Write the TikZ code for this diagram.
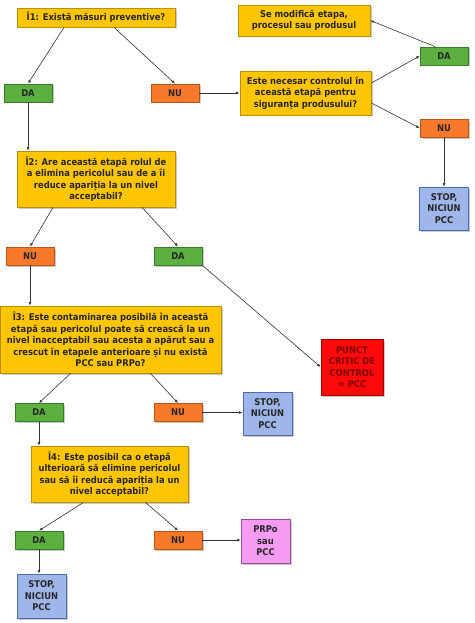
\documentclass[tikz,border=0pt]{standalone}
\usepackage{fontspec}
\setmainfont{DejaVu Sans Condensed}[BoldFont={DejaVu Sans Condensed Bold}]
\usepackage{tikz}
\usetikzlibrary{arrows.meta, shadows}

\definecolor{qyellow}{HTML}{FFC600}
\definecolor{qyellowd}{HTML}{B8900A}
\definecolor{agreen}{HTML}{5CB040}
\definecolor{agreend}{HTML}{3A7A28}
\definecolor{aorange}{HTML}{F8792A}
\definecolor{aoranged}{HTML}{B85418}
\definecolor{sblue}{HTML}{9FB6EA}
\definecolor{sblued}{HTML}{4E6AA8}
\definecolor{ppink}{HTML}{F59CF2}
\definecolor{ppinkd}{HTML}{9A4A98}
\definecolor{cred}{HTML}{FF0A0A}
\definecolor{credd}{HTML}{A00000}

\begin{document}
\begin{tikzpicture}[x=1pt, y=-1pt, line width=0.6pt,
    font=\fontsize{9.3}{11.4}\selectfont\bfseries,
    box/.style={draw, line width=0.8pt, align=center, inner sep=1pt, text=black!85,
        drop shadow={shadow xshift=1.5pt, shadow yshift=-1.5pt, fill=black!35, opacity=0.6}},
    question/.style={box, fill=qyellow, draw=qyellowd},
    yes/.style={box, fill=agreen, draw=agreend, minimum width=48pt, minimum height=18pt},
    no/.style={box, fill=aorange, draw=aoranged, minimum width=48pt, minimum height=18pt},
    stopbox/.style={box, fill=sblue, draw=sblued, minimum width=49pt, minimum height=43pt},
    link/.style={-{Latex[length=3.5pt, width=2.8pt]}, black!80}]

    \useasboundingbox (0, 0) rectangle (474, 623);

    % draw question boxes
    \node[question, minimum width=158pt, minimum height=19pt] (i1) at (96, 17.5) {Î1: Există măsuri preventive?};
    \node[question, minimum width=132pt, minimum height=31pt] (modif) at (304, 20.5) {Se modifică etapa,\\procesul sau produsul};
    \node[question, minimum width=131pt, minimum height=44pt] (necesar) at (305.5, 93) {Este necesar controlul în\\această etapă pentru\\siguranța produsului?};
    \node[question, minimum width=158pt, minimum height=56pt] (i2) at (96, 179) {Î2: Are această etapă rolul de\\a elimina pericolul sau de a îi\\reduce apariția la un nivel\\acceptabil?};
    \node[question, minimum width=221pt, minimum height=67pt] (i3) at (110.5, 339.5) {Î3: Este contaminarea posibilă în această\\etapă sau pericolul poate să crească la un\\nivel inacceptabil sau acesta a apărut sau a\\crescut în etapele anterioare și nu există\\PCC sau PRPo?};
    \node[question, minimum width=157pt, minimum height=56pt] (i4) at (109.5, 474) {Î4: Este posibil ca o etapă\\ulterioară să elimine pericolul\\sau să îi reducă apariția la un\\nivel acceptabil?};

    % draw answer boxes
    \node[yes] (da1) at (28, 93) {DA};
    \node[no] (nu1) at (175, 93) {NU};
    \node[yes] (dar) at (444, 56) {DA};
    \node[no] (nur) at (444, 128) {NU};
    \node[no] (nu2) at (30, 256) {NU};
    \node[yes] (da2) at (178, 256) {DA};
    \node[yes] (da3) at (39, 412.5) {DA};
    \node[no] (nu3) at (178, 412.5) {NU};
    \node[yes] (da4) at (39, 540) {DA};
    \node[no] (nu4) at (178, 540) {NU};

    % draw end boxes
    \node[stopbox] (stopr) at (444, 208.5) {STOP,\\NICIUN\\PCC};
    \node[stopbox] (stop3) at (267.5, 413.5) {STOP,\\NICIUN\\PCC};
    \node[stopbox, minimum height=44pt] (stop4) at (41.5, 596) {STOP,\\NICIUN\\PCC};
    \node[box, fill=ppink, draw=ppinkd, minimum width=49pt, minimum height=44pt] (prpo) at (265.5, 541) {PRPo\\sau\\PCC};
    \node[box, fill=cred, draw=credd, text=credd!80!black, minimum width=62pt, minimum height=56pt] (pcc) at (352, 367) {PUNCT\\CRITIC DE\\CONTROL\\= PCC};

    % draw connectors
    \draw[link] ([xshift=-32pt]i1.south) -- (da1.north);
    \draw[link] ([xshift=18pt]i1.south) -- (nu1.north);
    \draw[link] (da1.south) -- (da1.south |- i2.north);
    \draw[link] (nu1.east) -- (nu1.east -| necesar.west);
    \draw[link] ([yshift=10pt]necesar.east) -- (dar.west);
    \draw[link] ([xshift=-9pt]dar.north) -- (modif.east);
    \draw[link] ([yshift=-10pt]necesar.east) -- (nur.west);
    \draw[link] (nur.south) -- (stopr.north);

    \draw[link] ([xshift=-43pt]i2.south) -- (nu2.north);
    \draw[link] ([xshift=46pt]i2.south) -- (da2.north);
    \draw[link] (nu2.south) -- (nu2.south |- i3.north);
    \draw[link] (da2.south east) -- (pcc.west);

    \draw[link] ([xshift=-40pt]i3.south) -- (da3.north);
    \draw[link] ([xshift=40pt]i3.south) -- (nu3.north);
    \draw[link] (nu3.east) -- (nu3.east -| stop3.west);
    \draw[link] (da3.south) -- (da3.south |- i4.north);

    \draw[link] ([xshift=-26pt]i4.south) -- (da4.north);
    \draw[link] ([xshift=36pt]i4.south) -- (nu4.north);
    \draw[link] (nu4.east) -- (nu4.east -| prpo.west);
    \draw[link] (da4.south) -- (da4.south |- stop4.north);

\end{tikzpicture}
\end{document}
